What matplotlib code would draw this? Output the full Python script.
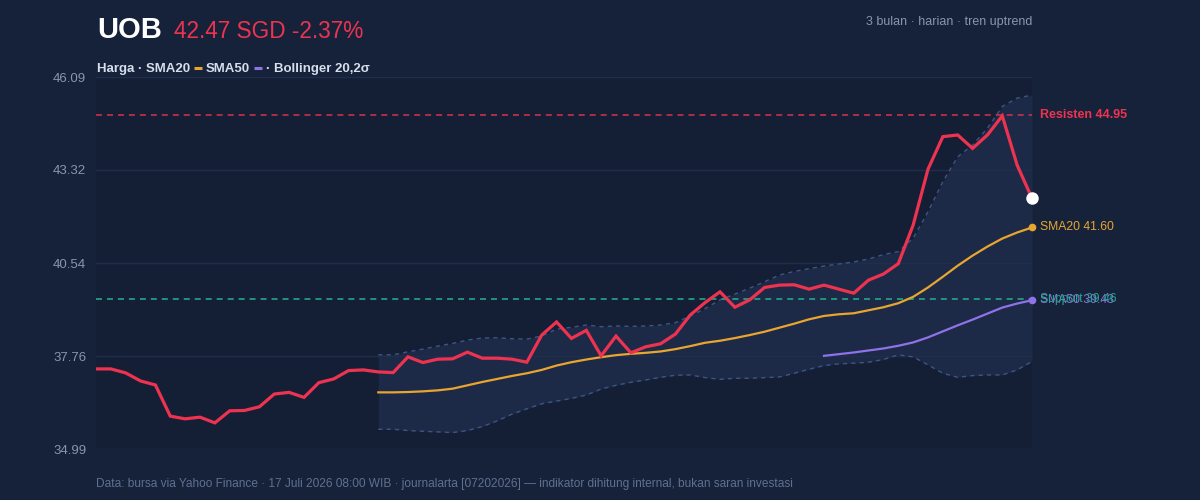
import matplotlib
matplotlib.use("Agg")
import matplotlib.pyplot as plt
from matplotlib.lines import Line2D
import numpy as np

# harga penutupan harian (64 hari)
price = [37.38, 37.38, 37.26, 37.02, 36.90, 35.97, 35.89, 35.94, 35.77, 36.13,
         36.14, 36.25, 36.63, 36.68, 36.53, 36.97, 37.08, 37.33, 37.35, 37.29,
         37.27, 37.74, 37.57, 37.67, 37.68, 37.88, 37.70, 37.70, 37.67, 37.58,
         38.39, 38.78, 38.29, 38.53, 37.77, 38.36, 37.86, 38.04, 38.13, 38.42,
         38.99, 39.36, 39.68, 39.22, 39.44, 39.81, 39.88, 39.89, 39.76, 39.88,
         39.76, 39.64, 40.03, 40.21, 40.52, 41.67, 43.34, 44.31, 44.36, 43.96,
         44.36, 44.93, 43.46, 42.47]

# SMA20 dan Bollinger mulai hari ke-19
sma20_start = 19
sma20 = [36.68, 36.68, 36.69, 36.71, 36.74, 36.79, 36.89, 36.99, 37.08, 37.17,
         37.25, 37.35, 37.48, 37.58, 37.66, 37.73, 37.79, 37.83, 37.86, 37.90,
         37.97, 38.06, 38.16, 38.22, 38.30, 38.39, 38.49, 38.61, 38.73, 38.86,
         38.96, 39.01, 39.04, 39.13, 39.22, 39.34, 39.53, 39.81, 40.13, 40.46,
         40.76, 41.03, 41.27, 41.45, 41.60]
bb_upper = [37.80, 37.80, 37.89, 37.97, 38.06, 38.14, 38.24, 38.30, 38.31, 38.28,
            38.27, 38.36, 38.57, 38.62, 38.69, 38.64, 38.66, 38.65, 38.66, 38.69,
            38.76, 38.96, 39.18, 39.44, 39.61, 39.79, 39.98, 40.18, 40.29, 40.37,
            40.45, 40.51, 40.57, 40.66, 40.79, 40.88, 41.28, 42.07, 42.97, 43.71,
            44.06, 44.56, 45.21, 45.46, 45.55]
bb_lower = [35.58, 35.58, 35.54, 35.52, 35.50, 35.48, 35.54, 35.66, 35.83, 36.03,
            36.19, 36.34, 36.42, 36.50, 36.60, 36.78, 36.89, 36.98, 37.05, 37.13,
            37.19, 37.20, 37.12, 37.07, 37.10, 37.10, 37.12, 37.14, 37.25, 37.37,
            37.48, 37.53, 37.55, 37.58, 37.66, 37.80, 37.74, 37.50, 37.25, 37.13,
            37.18, 37.20, 37.20, 37.35, 37.60]

# SMA50 mulai hari ke-49
sma50_start = 49
sma50 = [37.77, 37.82, 37.87, 37.93, 37.99, 38.07, 38.17, 38.32, 38.50, 38.68,
         38.85, 39.03, 39.21, 39.33, 39.43]

resisten = 44.95
support = 39.46
yticks = [34.99, 37.76, 40.54, 43.32, 46.09]

BG = "#16223a"
AX_BG = "#141f36"
RED = "#ee3350"
ORANGE = "#e8a530"
PURPLE = "#8e72e6"
GREEN = "#23a886"
TXT = "#d5deeb"
MUTED = "#8796b0"
FOOT = "#5f7090"

plt.rcParams["font.family"] = ["Liberation Sans", "DejaVu Sans"]
plt.rcParams["lines.scale_dashes"] = False

fig = plt.figure(figsize=(12, 5), dpi=100, facecolor=BG)
ax = fig.add_axes([96 / 1200, 51 / 500, 936 / 1200, 372 / 500])
ax.set_facecolor(AX_BG)

x = np.arange(len(price))
xb = np.arange(sma20_start, sma20_start + len(sma20))
x50 = np.arange(sma50_start, sma50_start + len(sma50))

ax.fill_between(xb, bb_lower, bb_upper, color="#1c2a47", lw=0, zorder=1)
ax.plot(xb, bb_upper, color="#3f5581", lw=1, dashes=(3, 3), zorder=2)
ax.plot(xb, bb_lower, color="#3f5581", lw=1, dashes=(3, 3), zorder=2)

ax.axhline(resisten, color="#c9304a", lw=1.2, dashes=(4.3, 3.6), zorder=3)
ax.axhline(support, color=GREEN, lw=1.2, dashes=(4.3, 3.6), zorder=3)

ax.plot(xb, sma20, color=ORANGE, lw=1.6, zorder=4)
ax.plot(x50, sma50, color=PURPLE, lw=1.6, zorder=4)
ax.plot(x, price, color=RED, lw=2.3, solid_joinstyle="miter", zorder=5)

ax.plot(x[-1], price[-1], "o", color="white", ms=9, mec="none", zorder=6, clip_on=False)
ax.plot(xb[-1], sma20[-1], "o", color=ORANGE, ms=5.5, mec="none", zorder=6, clip_on=False)
ax.plot(x50[-1], sma50[-1], "o", color=PURPLE, ms=5.5, mec="none", zorder=6, clip_on=False)

ax.set_xlim(0, len(price) - 1)
ax.set_ylim(yticks[0], yticks[-1])
ax.set_yticks(yticks)
ax.set_yticklabels([f"{v:.2f}" for v in yticks])
ax.set_xticks([])
ax.tick_params(axis="y", length=0, pad=7, labelsize=9.5, labelcolor=MUTED)
ax.grid(axis="y", color="#223050", lw=1, alpha=0.8, zorder=1.5)
for s in ax.spines.values():
    s.set_visible(False)

# label kanan
lx = len(price) - 1
off = dict(xytext=(6, 0), textcoords="offset points", va="center", annotation_clip=False)
ax.annotate(f"Resisten {resisten:.2f}", (lx, resisten), color=RED,
            fontweight="bold", fontsize=9, **off)
ax.annotate(f"SMA20 {sma20[-1]:.2f}", (lx, sma20[-1]), color=ORANGE, fontsize=8.7, **off)
ax.annotate(f"SMA50 {sma50[-1]:.2f}", (lx, sma50[-1]), color=PURPLE, fontsize=8.7, **off)
ax.annotate(f"Support {support:.2f}", (lx, support), color=GREEN, fontsize=8.7, **off)


def px(xp, yp):
    return xp / 1200, 1 - yp / 500


fig.text(*px(97, 38), "UOB", color="white", fontsize=21, fontweight="bold", va="baseline")
fig.text(*px(174, 38), "42.47 SGD -2.37%", color=RED, fontsize=16.3, va="baseline")
fig.text(*px(1032, 25), "3 bulan · harian · tren uptrend", color=MUTED,
         fontsize=9, ha="right", va="baseline")

# baris legenda
fig.canvas.draw()
r = fig.canvas.get_renderer()
cx = 97
pieces = [("Harga · SMA20", None), (None, ORANGE), ("SMA50", None), (None, PURPLE),
          ("· Bollinger 20,2σ", None)]
for s, c in pieces:
    if s is not None:
        t = fig.text(*px(cx, 72), s, color=TXT, fontsize=9.5, fontweight="bold", va="baseline")
        bb = t.get_window_extent(r)
        cx = bb.x1 + 4
    else:
        fig.add_artist(Line2D([cx / 1200, (cx + 8) / 1200], [1 - 67.5 / 500] * 2,
                              color=c, lw=2.2, solid_capstyle="butt",
                              transform=fig.transFigure))
        cx += 12

fig.text(*px(96, 487), "Data: bursa via Yahoo Finance · 17 Juli 2026 08:00 WIB · journalarta "
         "[07202026] — indikator dihitung internal, bukan saran investasi",
         color=FOOT, fontsize=8.55, va="baseline")

fig.savefig("out.png", dpi=100, facecolor=BG)
